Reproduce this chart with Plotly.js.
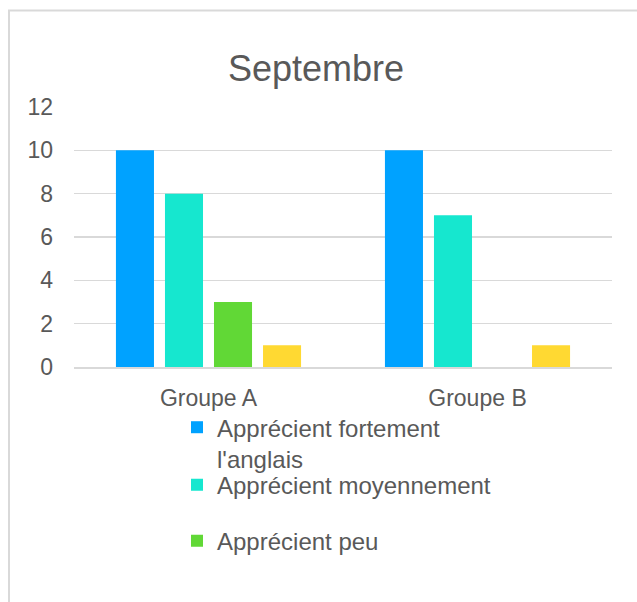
<!DOCTYPE html>
<html>
<head>
<meta charset="utf-8">
<script src="https://cdn.plot.ly/plotly-3.0.1.min.js"></script>
<style>
html,body{margin:0;padding:0;background:#fff;}
#chart{width:637px;height:602px;}
</style>
</head>
<body>
<div id="chart"></div>
<script>
var categories = ['Groupe A', 'Groupe B'];
var seriesNames = ["Apprécient fortement<br>l'anglais", "Apprécient moyennement", "Apprécient peu", "N'apprécient pas"];
var fortement = [10, 10];
var moyennement = [8, 7];
var peu = [3, 0];
var pas = [1, 1];
var yTicks = [0, 2, 4, 6, 8, 10, 12];
var colors = ['#00A2FF', '#16E7CF', '#61D836', '#FFD932'];
var legendIds = ['legend', 'legend2', 'legend3', 'legend4'];

var seriesValues = [fortement, moyennement, peu, pas];
var traces = seriesValues.map(function (vals, i) {
  return {
    type: 'bar',
    x: categories,
    y: vals,
    name: seriesNames[i],
    marker: {color: colors[i]},
    showlegend: i < 3,
    legend: legendIds[i],
    hoverinfo: 'x+y'
  };
});

var W = 637, H = 602;
var L = 74, R = 612, T = 107.4, B = 367;
function px2paperX(p) { return (p - L) / (R - L); }
function px2paperY(p) { return (B - p) / (B - T); }

var font = {family: 'Liberation Sans, Arial, sans-serif', color: '#595959', size: 23};
var legendFont = {family: font.family, color: '#595959', size: 24};

function legendAt(centerPx) {
  return {
    orientation: 'v',
    x: px2paperX(177), xanchor: 'left',
    y: px2paperY(centerPx), yanchor: 'middle',
    font: legendFont,
    bgcolor: 'rgba(0,0,0,0)',
    itemwidth: 30,
    valign: 'top'
  };
}

var layout = {
  width: W, height: H,
  margin: {l: L, r: W - R, t: T, b: H - B, pad: 0, autoexpand: false},
  paper_bgcolor: '#fff',
  plot_bgcolor: '#fff',
  font: font,
  title: {
    text: 'Septembre',
    font: {family: font.family, color: '#595959', size: 36},
    x: 316 / W, xref: 'container', xanchor: 'center',
    y: 1 - 68 / H, yref: 'container', yanchor: 'middle'
  },
  barmode: 'group',
  bargap: 0.271,
  bargroupgap: 0.224,
  xaxis: {
    type: 'category',
    showgrid: false,
    showline: true, linecolor: '#d9d9d9', linewidth: 1.5,
    ticks: '',
    ticklabelstandoff: 10,
    tickfont: font,
    fixedrange: true
  },
  yaxis: {
    range: [0, 12],
    tickvals: yTicks,
    ticktext: yTicks.map(String),
    showgrid: true, gridcolor: '#d9d9d9', gridwidth: 1.5,
    zeroline: false,
    showline: false,
    ticks: '',
    ticklabelstandoff: 20,
    tickfont: font,
    fixedrange: true
  },
  showlegend: true,
  legend: legendAt(443),
  legend2: legendAt(485),
  legend3: legendAt(541),
  shapes: [{
    type: 'rect', xref: 'paper', yref: 'paper', layer: 'below',
    x0: px2paperX(9), x1: px2paperX(700),
    y0: px2paperY(11), y1: px2paperY(700),
    line: {color: '#d9d9d9', width: 2},
    fillcolor: 'rgba(0,0,0,0)'
  }]
};

Plotly.newPlot('chart', traces, layout, {displayModeBar: false, staticPlot: true});
</script>
</body>
</html>
